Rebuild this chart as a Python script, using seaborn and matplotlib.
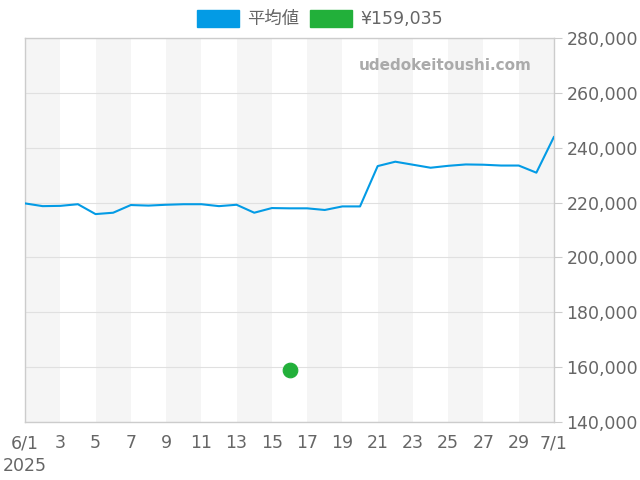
import matplotlib
matplotlib.use("Agg")
import matplotlib.pyplot as plt
import matplotlib.patches as mpatches
import seaborn as sns
import pandas as pd
import numpy as np

# ---- data ----
dates = pd.date_range("2025-06-01", "2025-07-01", freq="D")
avg_values = [219700, 218700, 218800, 219400, 215800, 216300, 219100, 218900,
              219200, 219400, 219400, 218700, 219200, 216300, 218000, 217900,
              217900, 217300, 218600, 218600, 233300, 234900, 233800, 232700,
              233400, 233900, 233800, 233500, 233500, 230900, 244000]
point_date = pd.Timestamp("2025-06-16")
point_value = 159035
legend_labels = ["平均値", "¥159,035"]
x_tick_labels = ["6/1\n2025", "3", "5", "7", "9", "11", "13", "15", "17",
                 "19", "21", "23", "25", "27", "29", "7/1"]
y_ticks = [140000, 160000, 180000, 200000, 220000, 240000, 260000, 280000]

df = pd.DataFrame({"date": dates, "value": avg_values})
pt = pd.DataFrame({"date": [point_date], "value": [point_value]})

blue = "#039BE5"
green = "#22B03A"
text_color = "#666666"

sns.set_theme(style="white")
plt.rcParams["font.family"] = ["DejaVu Sans", "Noto Sans CJK JP"]

fig = plt.figure(figsize=(6.4, 4.8), dpi=100)
ax = fig.add_axes([25 / 640, 1 - 422 / 480, (554 - 25) / 640, (422 - 38) / 480])

# alternating background bands
for i in range(0, 30, 4):
    ax.axvspan(dates[i], dates[i + 2], color="#f5f5f5", zorder=0, lw=0)

for yv in y_ticks:
    ax.axhline(yv, color="#e0e0e0", lw=0.8, zorder=1)

sns.lineplot(data=df, x="date", y="value", color=blue, lw=1.5, ax=ax, zorder=3)
sns.scatterplot(data=pt, x="date", y="value", color=green, s=110, ax=ax,
                edgecolor=green, zorder=4)

ax.set_xlim(dates[0], dates[-1])
ax.set_ylim(140000, 280000)
ax.set_xticks(list(dates[::2]))
ax.set_xticklabels(x_tick_labels, linespacing=1.3)
ax.set_yticks(y_ticks)
ax.set_yticklabels([f"{v:,}" for v in y_ticks])
ax.yaxis.tick_right()
ax.set_xlabel("")
ax.set_ylabel("")
ax.tick_params(axis="both", colors="#cccccc", labelcolor=text_color,
               labelsize=12.5, length=6, width=0.8, direction="out")
ax.tick_params(axis="x", pad=3)
ax.tick_params(axis="y", pad=3, right=True)
for sp in ax.spines.values():
    sp.set_visible(True)
    sp.set_color("#cccccc")
    sp.set_linewidth(1.0)

ax.text(532 / 640, 1 - 65 / 480, "udedokeitoushi.com", transform=fig.transFigure,
        ha="right", va="center", fontsize=11, fontweight="bold", color="#aaaaaa")

handles = [mpatches.Patch(color=blue, label=legend_labels[0]),
           mpatches.Patch(color=green, label=legend_labels[1])]
fig.legend(handles=handles, loc="center", bbox_to_anchor=(0.5, 1 - 19 / 480),
           ncol=2, frameon=False, fontsize=12.5, labelcolor=text_color,
           handlelength=2.4, handleheight=1.1, handletextpad=0.5,
           columnspacing=0.6, borderaxespad=0)

fig.savefig("out.png", dpi=100)
